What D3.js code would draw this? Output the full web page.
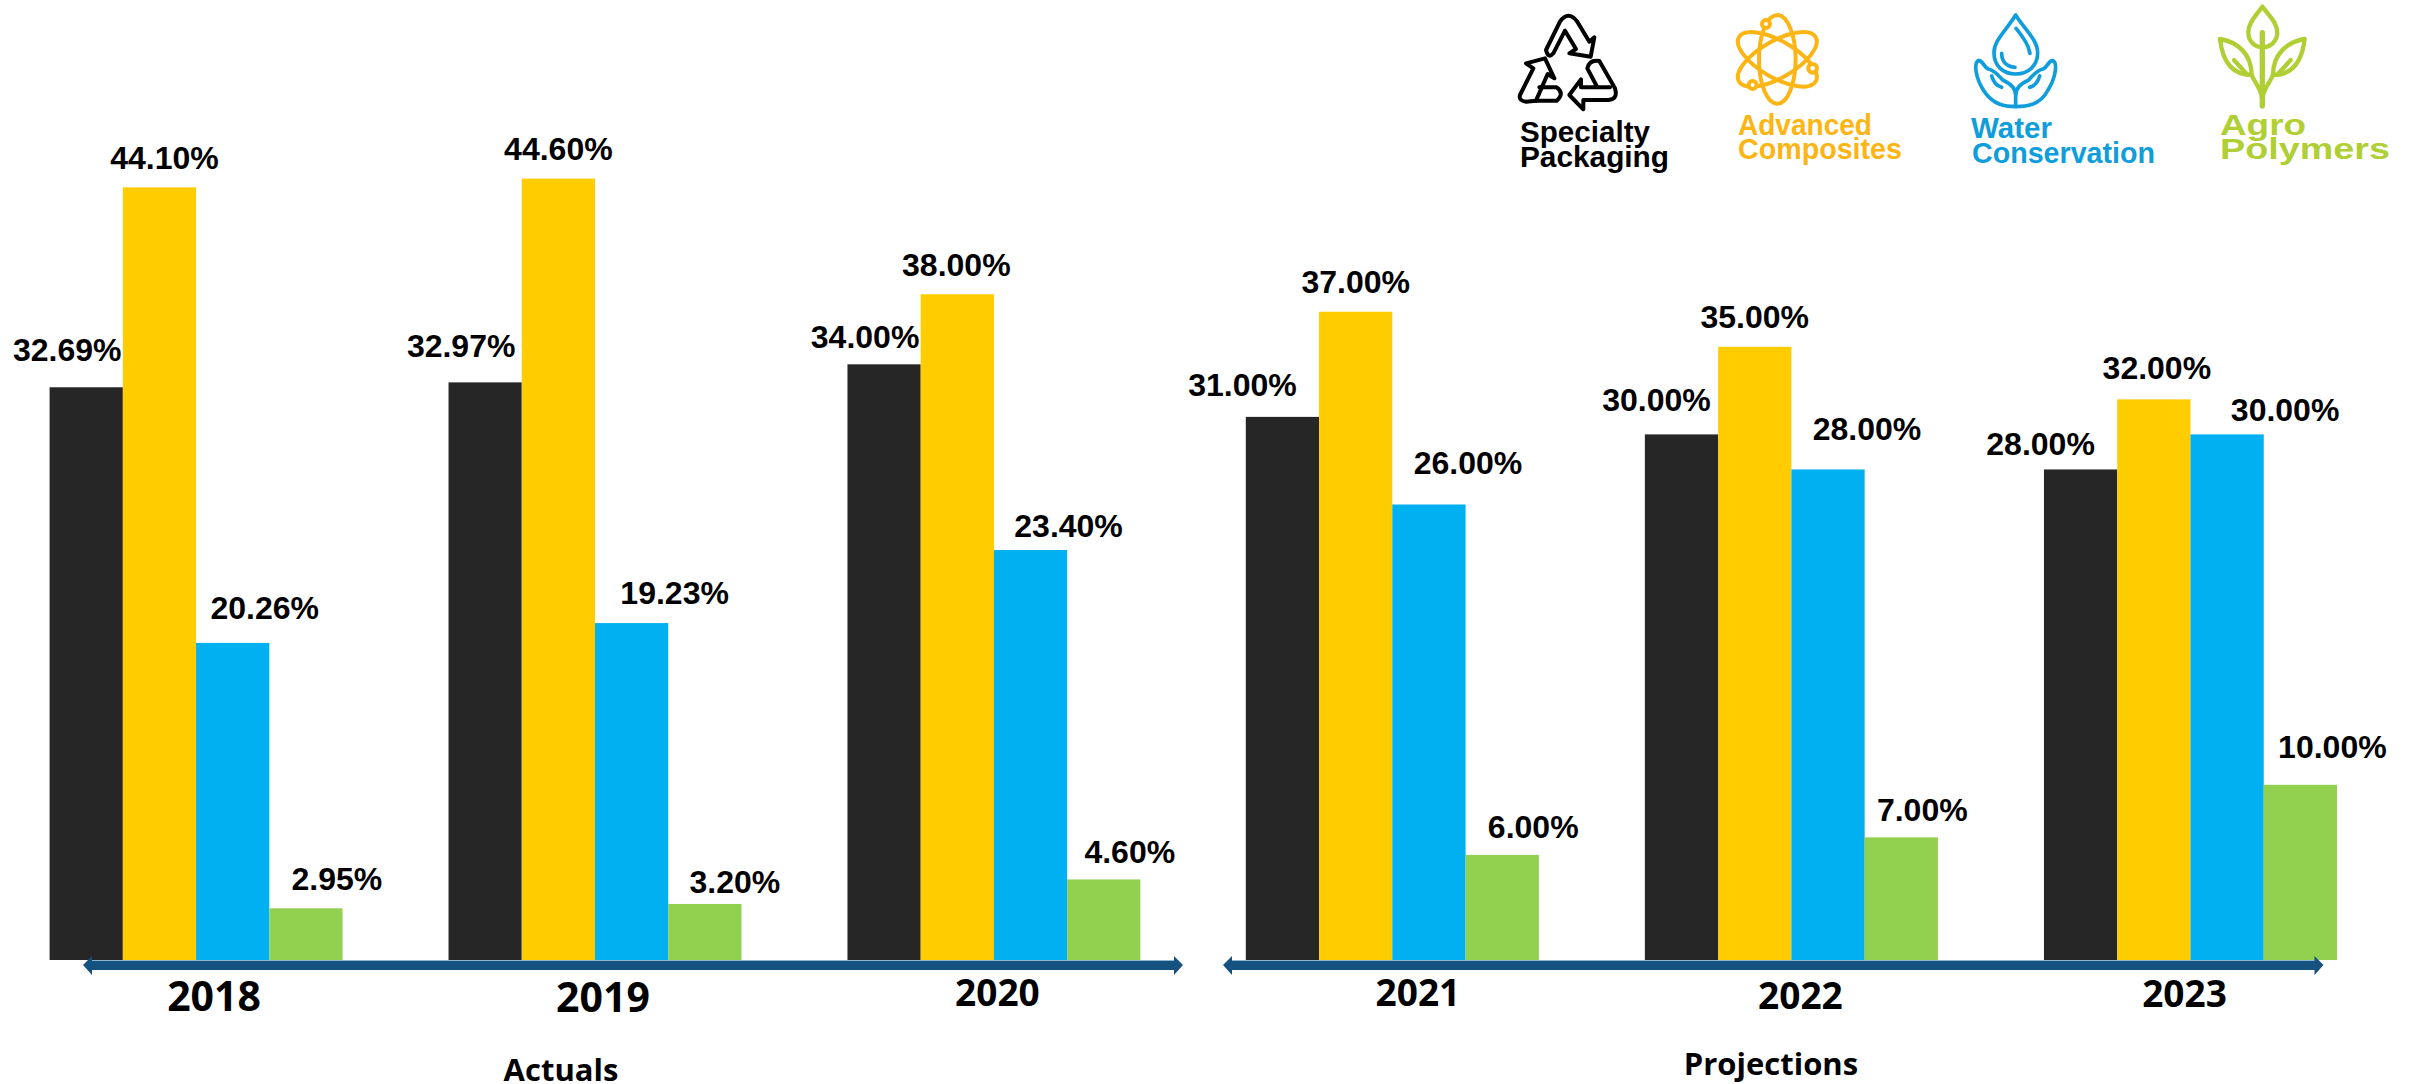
<!DOCTYPE html>
<html>
<head>
<meta charset="utf-8">
<script src="https://cdn.jsdelivr.net/npm/d3@7"></script>
<style>
  html, body { margin: 0; padding: 0; background: #fff; }
  svg { display: block; }
  .val { font-family: "Liberation Sans", Arial, sans-serif; font-weight: 700; font-size: 32px; fill: #000; }
  .yr, .panel { font-family: "Open Sans", sans-serif; font-weight: 700; fill: #000; }
  .brand { font-family: "Liberation Sans", Arial, sans-serif; font-weight: 700; font-size: 29px; }
</style>
</head>
<body>
<svg id="chart" width="2412" height="1084"></svg>
<script>
const actualYears = ["2018", "2019", "2020"];
const projectedYears = ["2021", "2022", "2023"];
const seriesNames = ["Specialty Packaging", "Advanced Composites", "Water Conservation", "Agro Polymers"];
const seriesColors = ["#262626", "#FFCC00", "#00B0F0", "#92D050"];

// bar heights, per year
const specialty = [32.69, 32.97, 34, 31, 30, 28];
const composites = [44.1, 44.6, 38, 37, 35, 32];
// the 2018 water bar is drawn shorter than its 20.26% label says
const water = [18.1, 19.23, 23.4, 26, 28, 30];
const agro = [2.95, 3.2, 4.6, 6, 7, 10];

// printed labels
const specialtyLabels = ["32.69%", "32.97%", "34.00%", "31.00%", "30.00%", "28.00%"];
const compositesLabels = ["44.10%", "44.60%", "38.00%", "37.00%", "35.00%", "32.00%"];
const waterLabels = ["20.26%", "19.23%", "23.40%", "26.00%", "28.00%", "30.00%"];
const agroLabels = ["2.95%", "3.20%", "4.60%", "6.00%", "7.00%", "10.00%"];

const values = [specialty, composites, water, agro];
const labels = [specialtyLabels, compositesLabels, waterLabels, agroLabels];
const allYears = actualYears.concat(projectedYears);

// hand placed labels in the original: nudge from bar centre / bar top [series][year]
const labelDx = [
  [-19, -24, -19, -40, -25, -40],
  [5, 0, -1, 0, 0, 3],
  [32, 43, 38, 39, 39, 58],
  [31, 30, 26, 31, 21, 32]
];
const labelDy = [
  [-26, -25, -16, -21, -23, -14],
  [-18, -19, -18, -19, -19, -20],
  [-24, -19, -13, -30, -29, -13],
  [-18, -11, -16, -17, -16, -27]
];
const yearDx = [18, 8, 3.5, 25.6, 9, -6];
const yearY = [51, 52, 46, 46, 49, 47];
const yearSize = [41, 41, 37, 37, 37, 37];

const svg = d3.select("#chart");
const baseY = 960;

const y = d3.scaleLinear().domain([0, 50]).range([baseY, baseY - 876]);

const xLeft = d3.scaleBand().domain(actualYears).range([49.6, 1140.4]).paddingInner(0.2657);
const xRight = d3.scaleBand().domain(projectedYears).range([1245.8, 2337]).paddingInner(0.2657);

function groupScale(year) {
  return actualYears.includes(year) ? xLeft : xRight;
}

const bars = svg.append("g");
const texts = svg.append("g");

allYears.forEach(function (year, yi) {
  const xo = groupScale(year);
  const xi = d3.scaleBand().domain(seriesNames).range([0, xo.bandwidth()]);
  seriesNames.forEach(function (name, si) {
    const v = values[si][yi];
    const left = xo(year) + xi(name);
    bars.append("rect")
      .attr("x", left)
      .attr("y", y(v))
      .attr("width", xi.bandwidth())
      .attr("height", baseY - y(v))
      .attr("fill", seriesColors[si]);
    texts.append("text")
      .attr("class", "val")
      .attr("text-anchor", "middle")
      .attr("x", left + xi.bandwidth() / 2 + labelDx[si][yi])
      .attr("y", y(v) + labelDy[si][yi])
      .text(labels[si][yi]);
  });
});

// double headed arrows under the two panels
function arrow(x0, x1) {
  const h = 9;
  const p = d3.path();
  p.moveTo(x0, 965);
  p.lineTo(x0 + h, 956);
  p.lineTo(x0 + h, 960);
  p.lineTo(x1 - h, 960);
  p.lineTo(x1 - h, 956);
  p.lineTo(x1, 965);
  p.lineTo(x1 - h, 975);
  p.lineTo(x1 - h, 970);
  p.lineTo(x0 + h, 970);
  p.lineTo(x0 + h, 975);
  p.closePath();
  svg.append("path").attr("d", p.toString()).attr("fill", "#15527F");
  svg.append("line")
    .attr("x1", x0 + h).attr("x2", x1 - h)
    .attr("y1", 960.5).attr("y2", 960.5)
    .attr("stroke", "#8FB4CF");
}
arrow(83, 1183);
arrow(1223, 2323.5);

// year labels
function yearAxis(scale, offset) {
  const g = svg.append("g")
    .attr("transform", "translate(0," + baseY + ")")
    .call(d3.axisBottom(scale).tickSize(0));
  g.select(".domain").remove();
  g.selectAll("text")
    .attr("class", "yr")
    .attr("fill", "#000")
    .attr("dy", null)
    .attr("x", function (d, i) { return yearDx[offset + i]; })
    .attr("y", function (d, i) { return yearY[offset + i]; })
    .style("font-size", function (d, i) { return yearSize[offset + i] + "px"; });
}
yearAxis(xLeft, 0);
yearAxis(xRight, 3);

svg.append("text").attr("class", "panel").attr("x", 561).attr("y", 1081)
  .attr("text-anchor", "middle").style("font-size", "31px").text("Actuals");
svg.append("text").attr("class", "panel").attr("x", 1771).attr("y", 1075)
  .attr("text-anchor", "middle").style("font-size", "31px").text("Projections");

// legend, icons are traced at 3x so each group is scaled down
function icon(tx, color, width) {
  return svg.append("g")
    .attr("transform", "translate(" + tx + ",0) scale(0.3333)")
    .attr("fill", "none")
    .attr("stroke", color)
    .attr("stroke-width", width)
    .attr("stroke-linejoin", "round")
    .attr("stroke-linecap", "round");
}

const recycle = icon(1500, "#000", 12);
[
  "M138,150 L180,65 Q205,30 232,65 L268,125 L283,112 L272,170 L208,160 L228,147 L195,92 L160,160 Q145,178 138,150 Z",
  "M262,205 Q268,178 298,183 L345,265 Q355,298 325,300 L250,300 L250,328 L208,285 L243,238 L243,262 L330,262 M290,258 L262,205",
  "M60,285 L100,205 L78,190 L135,175 L163,235 L143,222 L108,302 L78,305 Q55,302 60,285 Z",
  "M118,262 L170,262 Q195,280 170,302 L108,302"
].forEach(function (d) { recycle.append("path").attr("d", d); });

const atom = icon(1500, "#FDB515", 12);
[0, 60, -60].forEach(function (r) {
  atom.append("ellipse").attr("cx", 832).attr("cy", 178).attr("rx", 55).attr("ry", 133)
    .attr("transform", "rotate(" + r + " 832 178)");
});
[[798, 72, 12], [938, 205, 13], [758, 255, 12]].forEach(function (c) {
  atom.append("circle").attr("cx", c[0]).attr("cy", c[1]).attr("r", c[2]).attr("fill", "#fff");
});

const drop = icon(1960, "#0F9DDC", 11);
[
  "M167,45 C140,90 102,120 102,158 C102,198 130,222 167,222 C204,222 233,198 233,158 C233,120 195,90 167,45 Z",
  "M168,85 C185,105 205,130 210,160",
  "M125,160 C125,185 140,200 165,202",
  "M55,182 C40,190 48,235 70,270 C100,318 140,320 167,320 C195,320 240,318 264,270 C286,235 294,190 279,182 C265,180 265,200 249,207 C234,210 219,225 206,240 C184,250 167,262 167,285 L167,320",
  "M55,182 C69,180 69,200 85,207 C100,210 115,225 128,240 C150,250 167,262 167,285",
  "M95,228 C100,245 110,258 125,262",
  "M239,228 C234,245 224,258 209,262"
].forEach(function (d) { drop.append("path").attr("d", d); });

const plant = icon(1960, "#B0CF34", 13);
[
  "M907,20 C885,50 865,70 865,97 C865,125 885,142 907,142 C930,142 952,125 952,97 C952,70 930,50 907,20 Z",
  "M780,117 C830,125 875,160 875,225 C835,225 790,205 780,117 Z",
  "M1034,117 C984,125 939,160 939,225 C979,225 1024,205 1034,117 Z",
  "M822,180 L860,222",
  "M992,180 L954,222",
  "M875,225 C885,250 907,270 907,300",
  "M939,225 C929,250 907,270 907,300"
].forEach(function (d) { plant.append("path").attr("d", d); });
plant.append("path").attr("d", "M907,98 L907,318").attr("stroke-width", 16);

// text, x, baseline, colour, width
const legendText = [
  ["Specialty", 1520, 142, "#000", 130], ["Packaging", 1520, 167, "#000", 149],
  ["Advanced", 1738, 135, "#FDB515", 134], ["Composites", 1738, 159, "#FDB515", 164],
  ["Water", 1971, 138, "#0F9DDC", 81], ["Conservation", 1972, 163, "#0F9DDC", 183],
  ["Agro", 2220, 135, "#B0CF34", 86], ["Polymers", 2220, 159, "#B0CF34", 170]
];
svg.append("g").selectAll("text").data(legendText).enter().append("text")
  .attr("class", "brand")
  .attr("x", function (d) { return d[1]; })
  .attr("y", function (d) { return d[2]; })
  .attr("fill", function (d) { return d[3]; })
  .attr("textLength", function (d) { return d[4]; })
  .attr("lengthAdjust", "spacingAndGlyphs")
  .text(function (d) { return d[0]; });
</script>
</body>
</html>
